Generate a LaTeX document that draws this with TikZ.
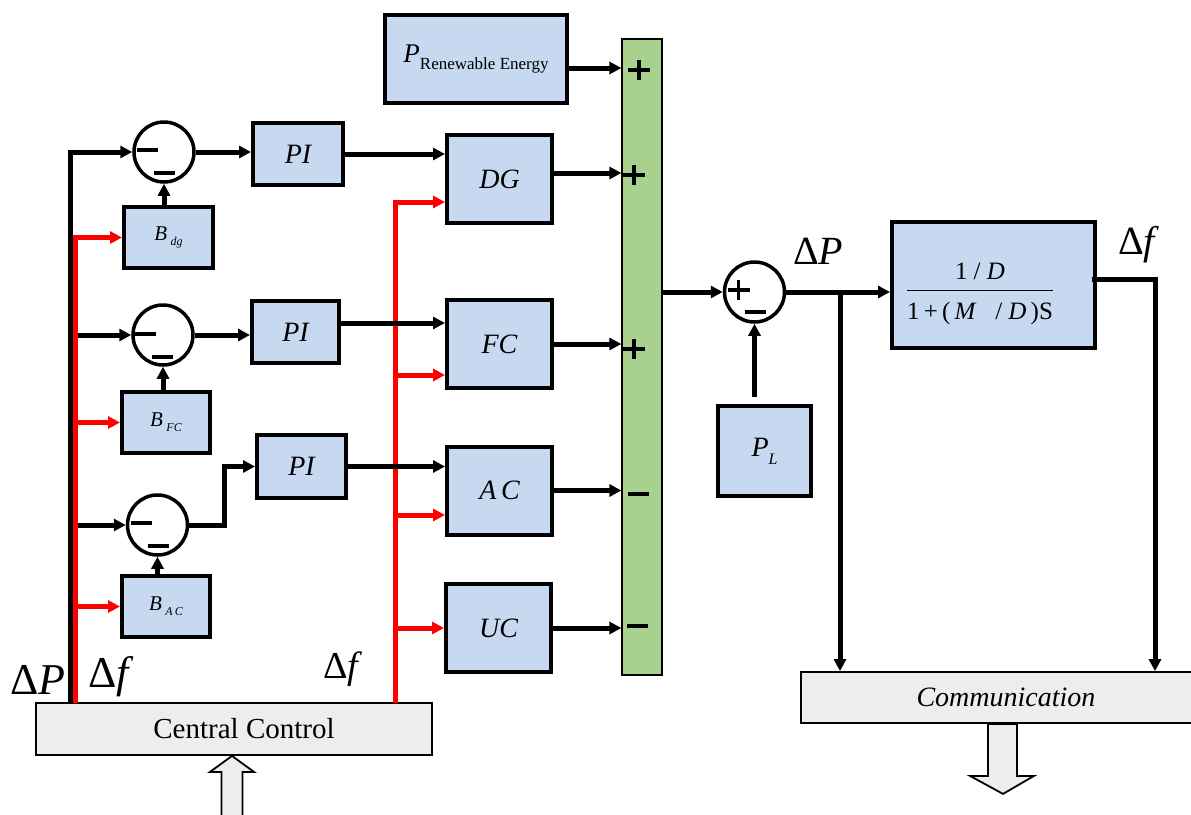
\documentclass[tikz,border=0pt]{standalone}
\usepackage{fontspec}
\setmainfont{Liberation Serif}
\usetikzlibrary{arrows.meta,calc}
\definecolor{blockblue}{HTML}{C6D9F1}
\definecolor{busgreen}{HTML}{A9D18E}
\definecolor{panelgray}{HTML}{EDEDED}
\tikzset{
	blk/.style={draw=black, line width=4pt, fill=blockblue, inner sep=0pt},
	busbar/.style={draw=black, line width=1.2pt, fill=busgreen, inner sep=0pt},
	panel/.style={draw=black, line width=1.8pt, fill=panelgray, inner sep=0pt},
	sumj/.style={circle, draw=black, line width=3.5pt, minimum size=60, inner sep=0pt},
	sig/.style={line width=5pt, -{Triangle[length=12pt,width=12pt]}},
	redsig/.style={sig, draw=red},
	sign/.style={line width=3.5pt},
	hollow/.style={draw=black, line width=1.8pt, fill=panelgray},
	blktext/.style={font=\fontsize{28}{30}\selectfont\itshape},
	btext/.style={font=\fontsize{21}{24}\selectfont\itshape},
	lbl/.style={inner sep=0pt, anchor=base west}
}
\def\plusmark(#1){\draw[sign] ($(#1)+(-11,0)$) -- ++(22,0) ($(#1)+(0,-10)$) -- ++(0,20);}
\def\minusmark(#1)(#2:#3){\draw[sign] ($(#1)+(#2,#3)$) -- ++(21,0);}
\def\sub#1{\raisebox{-0.55ex}{\fontsize{12}{12}\selectfont #1}}

\begin{document}
\begin{tikzpicture}[x=1pt,y=-1pt]
	\useasboundingbox (0,0) rectangle (1191,814);

	% blocks
	\node[blk, minimum width=182, minimum height=88] (re) at (476,59) {\fontsize{27}{28}\selectfont\textit{P}\raisebox{-0.5ex}{\fontsize{17}{17}\selectfont Renewable Energy}};
	\node[busbar, minimum width=40, minimum height=636] (bar) at (642,357) {};

	\node[sumj] (s1) at (164,152) {};
	\node[sumj] (s2) at (163,335) {};
	\node[sumj] (s3) at (157.5,525) {};

	\node[blk, minimum width=90, minimum height=62, blktext] (pi1) at (298,154) {PI};
	\node[blk, minimum width=87, minimum height=62, blktext] (pi2) at (295.5,332) {PI};
	\node[blk, minimum width=89, minimum height=63, blktext] (pi3) at (301.5,466.5) {PI};

	\node[blk, minimum width=89, minimum height=61, btext] (bdg) at (168.5,237.5) {B\,\sub{dg}};
	\node[blk, minimum width=88, minimum height=61, btext] (bfc) at (166,422.5) {B\,\sub{FC}};
	\node[blk, minimum width=88, minimum height=61, btext] (bac) at (166,606.5) {B\,\sub{A\,C}};

	\node[blk, minimum width=105, minimum height=88, blktext] (dg) at (499.5,179) {DG};
	\node[blk, minimum width=105, minimum height=88, blktext] (fc) at (499.5,344) {FC};
	\node[blk, minimum width=105, minimum height=88, blktext] (ac) at (499.5,490.5) {A\,C};
	\node[blk, minimum width=105, minimum height=88, blktext] (uc) at (498.5,628) {UC};

	\node[sumj] (s4) at (754.5,292) {};
	\node[blk, minimum width=93, minimum height=90] (pl) at (764.5,451) {\fontsize{28}{30}\selectfont\textit{P}\raisebox{-0.6ex}{\fontsize{16}{16}\selectfont\textit{L}}};
	\node[blk, minimum width=203, minimum height=126] (tf) at (993.5,285) {};
	\node[inner sep=0pt, font=\fontsize{25}{28}\selectfont] (tfeq) at (980,294) {\setlength{\arrayrulewidth}{1.3pt}\begin{tabular}{@{}c@{}}1 / \textit{D}\\[2pt]\hline\rule{0pt}{28pt}1\,+\,(\,\textit{M}\ \ \ /\ \textit{D}\,)S\end{tabular}};

	\node[panel, minimum width=396, minimum height=52, font=\fontsize{29}{30}\selectfont] (cc) at (234,729) {\hspace*{20pt}Central Control};
	\node[panel, minimum width=394, minimum height=51, font=\fontsize{28}{30}\selectfont\itshape] (comm) at (998,697.5) {Communication\hspace*{-16pt}};

	% signs
	\minusmark(s1)(-27:-2) \minusmark(s1)(-10:21)
	\minusmark(s2)(-28:-1) \minusmark(s2)(-11:22)
	\minusmark(s3)(-27:-2) \minusmark(s3)(-10:21)
	\plusmark(738.5,290) \minusmark(s4)(-10:20)
	\plusmark(639,70) \plusmark(634,175) \plusmark(634,349)
	\draw[sign] (628,494) -- ++(21,0);
	\draw[sign] (627,626) -- ++(21,0);

	% black bus
	\coordinate (dpb) at (70,703);
	\draw[sig] (dpb) |- (s1.west);
	\draw[sig] (s2.west -| dpb) -- (s2.west);
	\draw[sig] (s3.west -| dpb) -- (s3.west);

	% red buses
	\coordinate (dfb) at (75,703);
	\draw[redsig] (dfb) |- (bdg.west);
	\draw[redsig] (bfc.west -| dfb) -- (bfc.west);
	\draw[redsig] (bac.west -| dfb) -- (bac.west);

	\coordinate (df2) at (395,703);
	\draw[redsig] (df2) |- ($(dg.west)+(0,23)$);
	\draw[redsig] ($(fc.west -| df2)+(0,31)$) -- ($(fc.west)+(0,31)$);
	\draw[redsig] ($(ac.west -| df2)+(0,24.5)$) -- ($(ac.west)+(0,24.5)$);
	\draw[redsig] (uc.west -| df2) -- (uc.west);

	% loops
	\draw[sig] (s1.east) -- (s1.east -| pi1.west);
	\draw[sig] (s2.east) -- (s2.east -| pi2.west);
	\draw[sig] (s3.east) -- ++(35.5,0) |- (pi3.west);
	\draw[sig] (s1.south |- bdg.north) -- (s1.south);
	\draw[sig] (s2.south |- bfc.north) -- (s2.south);
	\draw[sig] (s3.south |- bac.north) -- (s3.south);

	\draw[sig] (pi1.east) -- (pi1.east -| dg.west);
	\draw[sig] ($(pi2.east)+(0,-9)$) -- ($(pi2.east -| fc.west)+(0,-9)$);
	\draw[sig] (pi3.east) -- (pi3.east -| ac.west);

	\draw[sig] ($(re.east)+(0,9)$) -- ($(re.east -| bar.west)+(0,9)$);
	\draw[sig] ($(dg.east)+(0,-6)$) -- ($(dg.east -| bar.west)+(0,-6)$);
	\draw[sig] (fc.east) -- (fc.east -| bar.west);
	\draw[sig] (ac.east) -- (ac.east -| bar.west);
	\draw[sig] (uc.east) -- (uc.east -| bar.west);

	% output side
	\draw[sig] (s4.west -| bar.east) -- (s4.west);
	\draw[sig] (s4.east) -- (s4.east -| tf.west);
	\draw[sig] ($(s4.south |- pl.north)+(0,-7)$) -- (s4.south);
	\coordinate (br) at (840,292);
	\draw[sig] (br) -- (br |- comm.north);
	\coordinate (fout) at (1155,279);
	\draw[sig] ($(tf.east |- fout)+(-5,0)$) -- (fout) -- (fout |- comm.north);

	% hollow arrows
	\draw[hollow] ([xshift=-2]cc.south) -- ++(22,16) -- ++(-11.5,0) -- ++(0,50) -- ++(-21,0) -- ++(0,-50) -- ++(-11.5,0) -- cycle;
	\draw[hollow] ($(comm.south)+(-10,0)$) -- ++(0,52) -- ++(-18,0) -- ++(33,18) -- ++(31,-18) -- ++(-17,0) -- ++(0,-52) -- cycle;

	% labels
	\node[lbl, font=\fontsize{44}{48}\selectfont] (dpl) at (10,694) {Δ\textit{P}};
	\node[lbl, font=\fontsize{44}{48}\selectfont] (dfl) at (88,687) {Δ\textit{f}};
	\node[lbl, font=\fontsize{38}{42}\selectfont] (dfm) at (323,678) {Δ\textit{f}};
	\node[lbl, font=\fontsize{40}{44}\selectfont] (dpr) at (793,264) {Δ\textit{P}};
	\node[lbl, font=\fontsize{40}{44}\selectfont] (dfr) at (1118,254) {Δ\textit{f}};
\end{tikzpicture}
\end{document}
